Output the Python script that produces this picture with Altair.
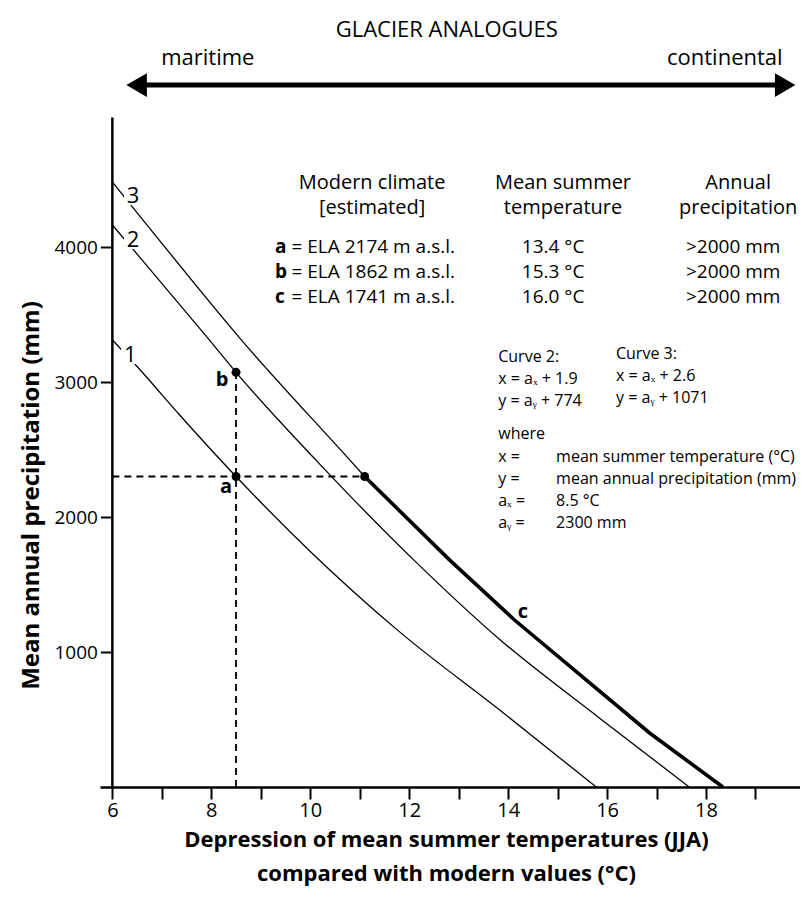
import altair as alt
import pandas as pd

# ---- curve data (x: depression of JJA temperature, y: precipitation) ----
curve1_x = [6.0, 6.55, 7.36, 8.5, 10.0, 11.8, 13.83, 15.78]
curve1_y = [3311, 3095, 2756, 2300, 1745, 1151, 570, 0]
curve2_x = [6.0, 6.62, 7.93, 8.5, 10.12, 12.07, 13.83, 15.85, 17.66]
curve2_y = [4163, 3896, 3325, 3072, 2420, 1690, 1093, 510, 0]
curve3_x = [6.0, 6.62, 8.61, 10.83, 11.1]
curve3_y = [4481, 4200, 3311, 2410, 2300]
curve3_bold_x = [11.1, 12.82, 14.13, 16.86, 18.34]
curve3_bold_y = [2300, 1681, 1237, 400, 0]

# reference points a, b and the start of the bold segment
pt_names = ["a", "b", "d"]
pt_x = [8.5, 8.5, 11.1]
pt_y = [2300, 3072, 2300]

x_ticks = list(range(6, 20))
y_ticks = [1000, 2000, 3000, 4000]

# ---- annotation texts ----
header_text = ["GLACIER ANALOGUES", "maritime", "continental"]
header_x = [12.76, 7.93, 18.38]
header_y = [5607, 5400, 5400]

arrow_x = [6.19, 19.9]
arrow_y = 5200

thead_text = ["Modern climate", "[estimated]", "Mean summer", "temperature", "Annual", "precipitation"]
thead_x = [11.25, 11.25, 15.11, 15.11, 18.65, 18.65]
thead_y = [4474, 4289, 4474, 4289, 4474, 4289]

row_letter = ["a", "b", "c"]
row_desc = ["= ELA 2174 m a.s.l.", "= ELA 1862 m a.s.l.", "= ELA 1741 m a.s.l."]
row_temp = ["13.4 °C", "15.3 °C", "16.0 °C"]
row_prec = [">2000 mm", ">2000 mm", ">2000 mm"]
row_y = [4000, 3815, 3630]
col_letter_x = 9.29
col_desc_x = 9.62
col_temp_x = 14.91
col_prec_x = 18.55

formula_text = ["Curve 2:", "x = aₓ + 1.9", "y = aᵧ + 774",
                "Curve 3:", "x = aₓ + 2.6", "y = aᵧ + 1071",
                "where", "x  =", "y  =", "aₓ =", "aᵧ =",
                "mean summer temperature (°C)", "mean annual precipitation (mm)",
                "8.5 °C", "2300 mm"]
formula_x = [13.80, 13.80, 13.80, 16.18, 16.18, 16.18,
             13.80, 13.80, 13.80, 13.80, 13.80,
             14.97, 14.97, 14.97, 14.97]
formula_y = [3185, 3022, 2859, 3207, 3044, 2881,
             2615, 2444, 2281, 2119, 1956,
             2444, 2281, 2119, 1956]

curve_lab = ["3", "2", "1"]
curve_lab_x = [6.42, 6.42, 6.36]
curve_lab_y = [4378, 4052, 3200]

point_lab = ["a", "b", "c"]
point_lab_x = [8.30, 8.22, 14.30]
point_lab_y = [2222, 3015, 1296]

FONT = "Open Sans"

xs = alt.Scale(domain=[5.75, 19.9], nice=False, zero=False)
ys = alt.Scale(domain=[0, 5756], nice=False, zero=False)

xaxis = alt.Axis(
    values=x_ticks,
    labelExpr="(datum.value % 2 == 0 && datum.value <= 18) ? datum.label : ''",
    title=["Depression of mean summer temperatures (JJA)", "compared with modern values (°C)"],
    titleFont=FONT, titleFontSize=22, titleFontWeight="bold", titleColor="black",
    titleLineHeight=34, titlePadding=9, titleX=346,
    labelFont=FONT, labelFontSize=20, labelColor="black", labelPadding=1,
    tickSize=12, tickWidth=2, tickColor="black",
    domainColor="black", domainWidth=2.5, grid=False,
)
yaxis = alt.Axis(
    values=y_ticks, format="d",
    title="Mean annual precipitation (mm)",
    titleFont=FONT, titleFontSize=24, titleFontWeight="bold", titleColor="black",
    titlePadding=10, titleY=485,
    labelFont=FONT, labelFontSize=19, labelColor="black", labelPadding=3,
    tickSize=12, tickWidth=2, tickColor="black",
    domain=False, grid=False, offset=-12.4,
)


def X(field="x"):
    return alt.X(f"{field}:Q", scale=xs, axis=xaxis)


def Y(field="y"):
    return alt.Y(f"{field}:Q", scale=ys, axis=yaxis)


def text_layer(texts, xv, yv, align="left", size=19, weight="normal", font=FONT):
    df = pd.DataFrame({"x": xv, "y": yv, "t": texts})
    return alt.Chart(df).mark_text(
        align=align, baseline="middle", fontSize=size, fontWeight=weight, font=font, color="black"
    ).encode(x=X(), y=Y(), text="t:N")


thin = pd.concat([
    pd.DataFrame({"x": curve1_x, "y": curve1_y, "c": "1", "o": range(len(curve1_x))}),
    pd.DataFrame({"x": curve2_x, "y": curve2_y, "c": "2", "o": range(len(curve2_x))}),
    pd.DataFrame({"x": curve3_x, "y": curve3_y, "c": "3", "o": range(len(curve3_x))}),
])
bold = pd.DataFrame({"x": curve3_bold_x, "y": curve3_bold_y, "o": range(len(curve3_bold_x))})

thin_l = alt.Chart(thin).mark_line(color="black", strokeWidth=1.3, interpolate="monotone").encode(
    x=X(), y=Y(), detail="c:N", order="o:Q")
bold_l = alt.Chart(bold).mark_line(color="black", strokeWidth=3.6).encode(
    x=X(), y=Y(), order="o:Q")

dash_df = pd.DataFrame({"x": [6.0, pt_x[0]], "y": [pt_y[0], 0],
                        "x2": [pt_x[2], pt_x[1]], "y2": [pt_y[2], pt_y[1]]})
dash_l = alt.Chart(dash_df).mark_rule(color="black", strokeWidth=1.8, strokeDash=[7, 5]).encode(
    x=X(), y=Y(), x2="x2:Q", y2="y2:Q")

yline_df = pd.DataFrame({"x": [6.0], "y": [0], "x2": [6.0], "y2": [4960]})
yline_l = alt.Chart(yline_df).mark_rule(color="black", strokeWidth=2.5).encode(
    x=X(), y=Y(), x2="x2:Q", y2="y2:Q")

pts_df = pd.DataFrame({"x": pt_x, "y": pt_y, "n": pt_names})
pts_l = alt.Chart(pts_df).mark_point(filled=True, color="black", opacity=1, size=80).encode(
    x=X(), y=Y())

lab_bg_df = pd.DataFrame({"x": curve_lab_x, "y": curve_lab_y})
lab_bg = alt.Chart(lab_bg_df).mark_point(shape="square", filled=True, color="white", opacity=1, size=330).encode(
    x=X(), y=Y())

arrow_df = pd.DataFrame({"x": [arrow_x[0] + 0.25], "y": [arrow_y], "x2": [arrow_x[1] - 0.25], "y2": [arrow_y]})
arrow_l = alt.Chart(arrow_df).mark_rule(color="black", strokeWidth=5).encode(
    x=X(), y=Y(), x2="x2:Q", y2="y2:Q")
head_l = alt.Chart(pd.DataFrame({"x": [arrow_x[0] + 0.3], "y": [arrow_y]})).mark_point(
    shape="triangle-left", filled=True, color="black", opacity=1, size=560).encode(x=X(), y=Y())
head_r = alt.Chart(pd.DataFrame({"x": [arrow_x[1] - 0.3], "y": [arrow_y]})).mark_point(
    shape="triangle-right", filled=True, color="black", opacity=1, size=560).encode(x=X(), y=Y())

layers = [
    thin_l, bold_l, dash_l, yline_l, pts_l, lab_bg,
    text_layer(curve_lab, curve_lab_x, curve_lab_y, align="center", size=22),
    text_layer(point_lab, point_lab_x, point_lab_y, align="center", size=20, weight="bold"),
    arrow_l, head_l, head_r,
    text_layer(header_text, header_x, header_y, align="center", size=22),
    text_layer(thead_text, thead_x, thead_y, align="center", size=20),
    text_layer(row_letter, [col_letter_x] * 3, row_y, align="left", size=19, weight="bold"),
    text_layer(row_desc, [col_desc_x] * 3, row_y, align="left", size=19),
    text_layer(row_temp, [col_temp_x] * 3, row_y, align="center", size=19),
    text_layer(row_prec, [col_prec_x] * 3, row_y, align="center", size=19),
    text_layer(formula_text, formula_x, formula_y, align="left", size=16),
]

chart = alt.layer(*layers).properties(
    width=700, height=777,
    autosize=alt.AutoSizeParams(type="none"),
    padding={"left": 92, "top": 2, "right": 0, "bottom": 100},
    background="white",
).configure_view(stroke=None)

chart.save("out.html", embed_options={"renderer": "svg", "actions": False})
